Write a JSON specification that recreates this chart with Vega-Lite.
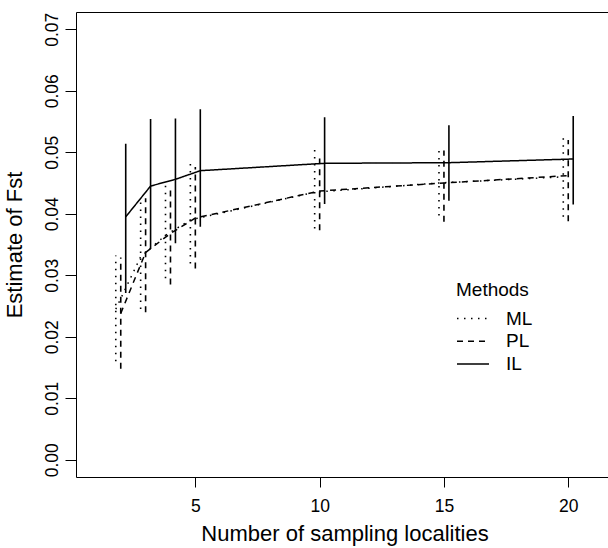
{
  "$schema": "https://vega.github.io/schema/vega-lite/v6.json",
  "width": 537,
  "height": 465,
  "autosize": {"type": "none"},
  "padding": {"left": 76, "top": 12, "right": 0, "bottom": 71},
  "config": {
    "view": {"stroke": "black", "strokeWidth": 1},
    "font": "Liberation Sans",
    "axis": {
      "domain": false,
      "grid": false,
      "tickColor": "black",
      "tickWidth": 1,
      "labelColor": "black",
      "labelFontSize": 17.5,
      "labelFont": "Liberation Sans",
      "titleColor": "black",
      "titleFontSize": 22,
      "titleFont": "Liberation Sans",
      "titleFontWeight": "normal"
    }
  },
  "data": {
    "values": [
      {"method": "ML", "n": 2, "mean": 0.0245, "lo": 0.0160, "hi": 0.0332},
      {"method": "ML", "n": 3, "mean": 0.0330, "lo": 0.0245, "hi": 0.0422},
      {"method": "ML", "n": 4, "mean": 0.0365, "lo": 0.0295, "hi": 0.0449},
      {"method": "ML", "n": 5, "mean": 0.0390, "lo": 0.0319, "hi": 0.0484},
      {"method": "ML", "n": 10, "mean": 0.0435, "lo": 0.0376, "hi": 0.0506},
      {"method": "ML", "n": 15, "mean": 0.0450, "lo": 0.0397, "hi": 0.0506},
      {"method": "ML", "n": 20, "mean": 0.0460, "lo": 0.0395, "hi": 0.0525},
      {"method": "PL", "n": 2, "mean": 0.0238, "lo": 0.0148, "hi": 0.0329},
      {"method": "PL", "n": 3, "mean": 0.0337, "lo": 0.0240, "hi": 0.0425},
      {"method": "PL", "n": 4, "mean": 0.0368, "lo": 0.0285, "hi": 0.0440},
      {"method": "PL", "n": 5, "mean": 0.0393, "lo": 0.0311, "hi": 0.0476},
      {"method": "PL", "n": 10, "mean": 0.0437, "lo": 0.0373, "hi": 0.0490},
      {"method": "PL", "n": 15, "mean": 0.0450, "lo": 0.0387, "hi": 0.0503},
      {"method": "PL", "n": 20, "mean": 0.0462, "lo": 0.0388, "hi": 0.0520},
      {"method": "IL", "n": 2, "mean": 0.0395, "lo": 0.0271, "hi": 0.0514},
      {"method": "IL", "n": 3, "mean": 0.0445, "lo": 0.0343, "hi": 0.0554},
      {"method": "IL", "n": 4, "mean": 0.0456, "lo": 0.0352, "hi": 0.0555},
      {"method": "IL", "n": 5, "mean": 0.0470, "lo": 0.0379, "hi": 0.0570},
      {"method": "IL", "n": 10, "mean": 0.0482, "lo": 0.0416, "hi": 0.0557},
      {"method": "IL", "n": 15, "mean": 0.0483, "lo": 0.0421, "hi": 0.0544},
      {"method": "IL", "n": 20, "mean": 0.0489, "lo": 0.0415, "hi": 0.0559}
    ]
  },
  "transform": [
    {"calculate": "datum.n + (datum.method === 'ML' ? -0.2 : datum.method === 'IL' ? 0.2 : 0)", "as": "xd"}
  ],
  "encoding": {
    "x": {
      "field": "xd",
      "type": "quantitative",
      "scale": {"domain": [0.2, 21.8], "nice": false, "zero": false},
      "axis": {
        "title": "Number of sampling localities",
        "values": [5, 10, 15, 20],
        "tickSize": 10,
        "labelPadding": 10,
        "titlePadding": 9
      }
    },
    "strokeDash": {
      "field": "method",
      "type": "nominal",
      "scale": {"domain": ["ML", "PL", "IL"], "range": [[1.5, 5.5], [6, 5], [1, 0]]},
      "legend": {
        "orient": "none",
        "legendX": 380,
        "legendY": 269,
        "title": "Methods",
        "titleFontSize": 19,
        "titleFontWeight": "normal",
        "titleColor": "black",
        "titleFont": "Liberation Sans",
        "titlePadding": 9,
        "labelFontSize": 19,
        "labelColor": "black",
        "labelFont": "Liberation Sans",
        "labelOffset": 16,
        "symbolType": "stroke",
        "symbolSize": 1024,
        "symbolStrokeColor": "black",
        "symbolStrokeWidth": 1.5,
        "clipHeight": 19,
        "rowPadding": 2.7,
        "padding": 0
      }
    }
  },
  "layer": [
    {
      "mark": {"type": "rule", "color": "black", "strokeWidth": 1.6},
      "encoding": {
        "y": {
          "field": "lo",
          "type": "quantitative",
          "scale": {"domain": [-0.0028, 0.0728], "nice": false, "zero": false},
          "axis": {
            "title": "Estimate of Fst",
            "values": [0, 0.01, 0.02, 0.03, 0.04, 0.05, 0.06, 0.07],
            "format": ".2f",
            "labelAngle": -90,
            "labelAlign": "center",
            "labelBaseline": "alphabetic",
            "tickSize": 11,
            "labelPadding": 8,
            "titlePadding": 17
          }
        },
        "y2": {"field": "hi"}
      }
    },
    {
      "mark": {"type": "line", "color": "black", "strokeWidth": 1.5},
      "encoding": {
        "y": {"field": "mean", "type": "quantitative"}
      }
    }
  ]
}
